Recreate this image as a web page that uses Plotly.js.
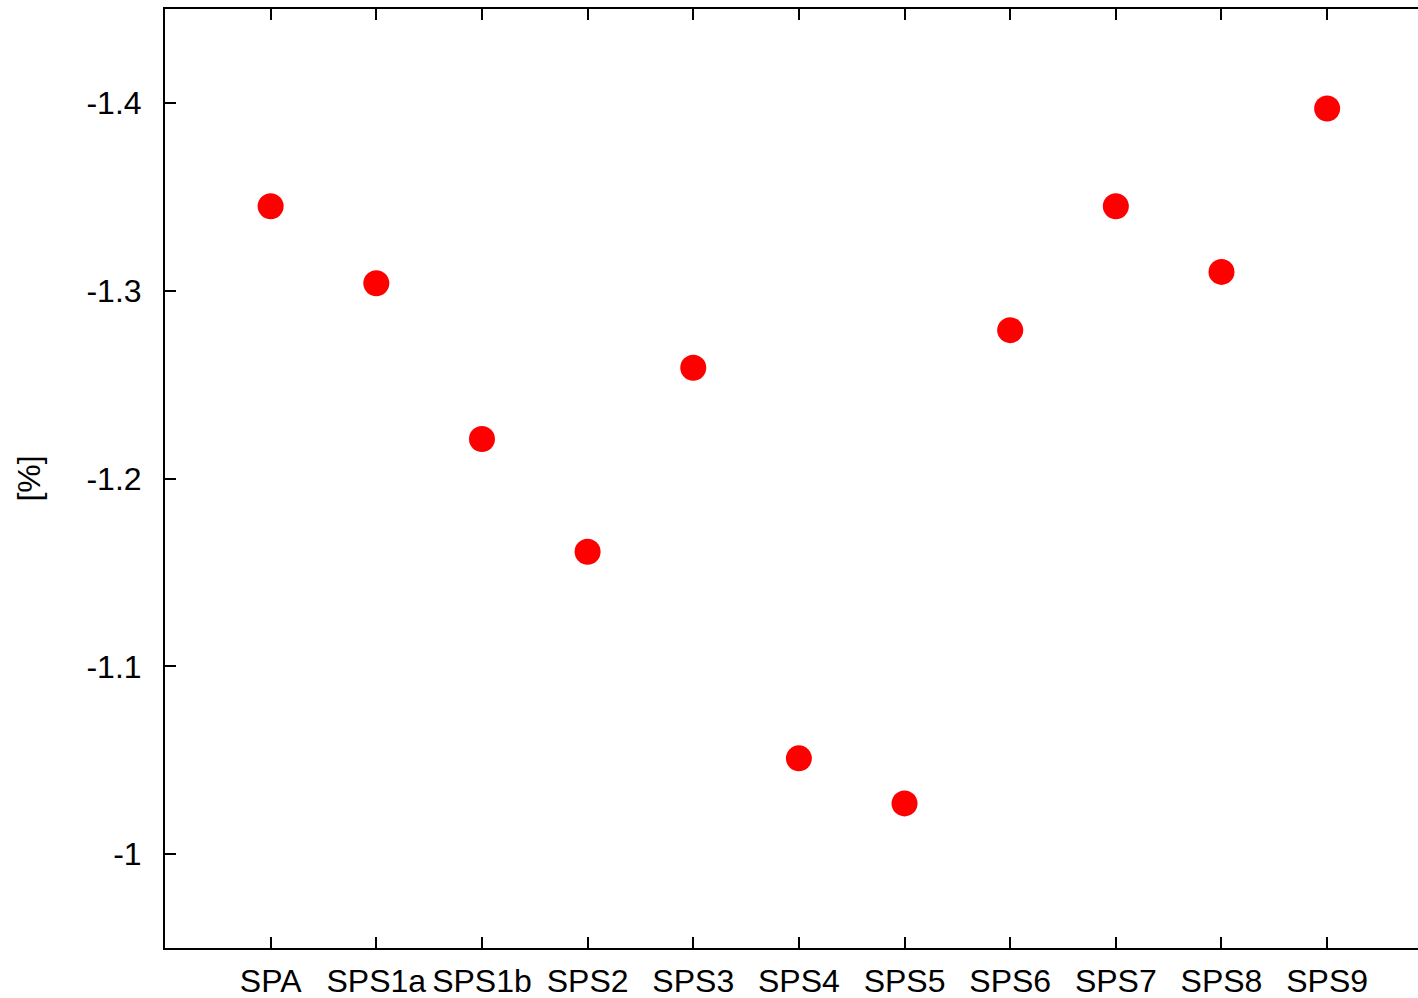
<!DOCTYPE html>
<html><head><meta charset="utf-8">
<script src="https://cdn.plot.ly/plotly-3.0.1.min.js"></script>
<style>html,body{margin:0;padding:0;background:#fff}#plot{width:1418px;height:998px}</style>
</head><body><div id="plot"></div>
<script>
const categories = ["SPA","SPS1a","SPS1b","SPS2","SPS3","SPS4","SPS5","SPS6","SPS7","SPS8","SPS9"];
const values = [-1.345,-1.304,-1.221,-1.161,-1.259,-1.051,-1.027,-1.279,-1.345,-1.310,-1.397];
const yTicks = [-1.4,-1.3,-1.2,-1.1,-1];
const yTickLabels = ["-1.4","-1.3","-1.2","-1.1","-1"];
const yLabel = "[%]";

const font = {family:"Liberation Sans, Arial, sans-serif", size:32, color:"#000"};
Plotly.newPlot("plot", [{
  x: categories.map((c,i)=>i), y: values, type:"scatter", mode:"markers",
  marker:{color:"#ff0000", size:26}, hoverinfo:"skip", showlegend:false
}], {
  width:1418, height:998,
  margin:{l:165, r:0, t:9, b:50},
  paper_bgcolor:"#fff", plot_bgcolor:"#fff",
  font: font,
  xaxis:{range:[-1,10.86], tickmode:"array", tickvals:categories.map((c,i)=>i), ticktext:categories,
    showgrid:false, zeroline:false, showline:true, linecolor:"#000", linewidth:2,
    mirror:"ticks", ticks:"inside", ticklen:11, tickwidth:2, tickcolor:"#000",
    tickfont:font, ticklabelstandoff:4},
  yaxis:{range:[-0.95,-1.45], tickmode:"array", tickvals:yTicks, ticktext:yTickLabels,
    showgrid:false, zeroline:false, showline:true, linecolor:"#000", linewidth:2,
    mirror:false, ticks:"inside", ticklen:11, tickwidth:2, tickcolor:"#000",
    tickfont:font, ticklabelstandoff:15,
    title:{text:yLabel, font:font, standoff:36}}
}, {displayModeBar:false, staticPlot:true});
</script></body></html>
